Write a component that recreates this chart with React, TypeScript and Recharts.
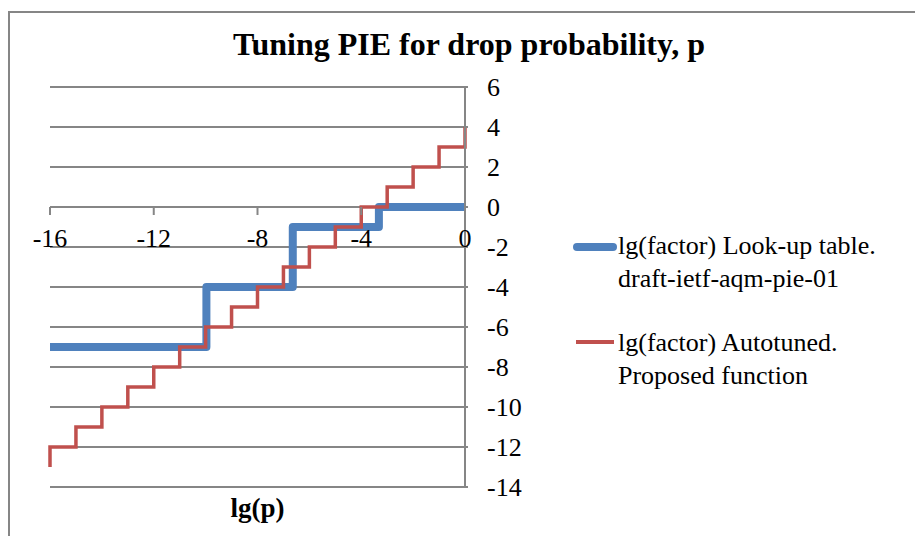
import { LineChart, Line, XAxis, YAxis, CartesianGrid, ReferenceLine, ReferenceDot } from 'recharts';

// lg(p) break points and lg(factor) for the PIE look-up table
const tableLgP = [-16, -9.97, -6.64, -3.32, 0];
const tableLgFactor = [-7, -4, -1, 0, 0];

// autotuned staircase, one step per unit of lg(p)
const autoLgP = [-16, -16, -15, -14, -13, -12, -11, -10, -9, -8, -7, -6, -5, -4, -3, -2, -1, 0];
const autoLgFactor = [-13, -12, -11, -10, -9, -8, -7, -6, -5, -4, -3, -2, -1, 0, 1, 2, 3, 4];

const xTicks = [-16, -12, -8, -4, 0];
const yTicks = [6, 4, 2, 0, -2, -4, -6, -8, -10, -12, -14];

const BLUE = '#4f81bd';
const RED = '#c0504d';
const GRID = '#868686';
const FONT = '"Liberation Serif", "Times New Roman", serif';

const tableData = tableLgP.map((x, i) => ({ x, y: tableLgFactor[i] }));
const autoData = autoLgP.map((x, i) => ({ x, y: autoLgFactor[i] }));

// tick mark + label for the x axis that crosses at y = 0
const XTickMark = (props: any) => {
  const { cx, cy, value } = props;
  return (
    <g>
      {value !== 0 && <line x1={cx} y1={cy} x2={cx} y2={cy + 8} stroke={GRID} strokeWidth={2} />}
      <text x={cx} y={cy + 40} textAnchor="middle" fontFamily={FONT} fontSize={26} fill="#000">
        {value}
      </text>
    </g>
  );
};

export default function App() {
  return (
    <div style={{ position: 'absolute', left: 0, top: 0, width: 915, height: 536, overflow: 'hidden', background: '#fff' }}>
      <div
        style={{
          position: 'absolute',
          left: 8,
          top: 11,
          width: 1000,
          height: 1000,
          borderLeft: `2px solid ${GRID}`,
          borderTop: `2px solid ${GRID}`,
        }}
      />
      <div
        style={{
          position: 'absolute',
          left: 169,
          top: 28,
          width: 600,
          textAlign: 'center',
          fontFamily: FONT,
          fontWeight: 'bold',
          fontSize: 32,
          lineHeight: '32px',
          color: '#000',
        }}
      >
        Tuning PIE for drop probability, p
      </div>
      <div style={{ position: 'absolute', left: 0, top: 0 }}>
        <LineChart width={915} height={536} margin={{ top: 87, right: 390, bottom: 0, left: 50 }}>
          <CartesianGrid horizontal vertical={false} stroke={GRID} strokeWidth={2} />
          <XAxis
            type="number"
            dataKey="x"
            domain={[-16, 0]}
            ticks={xTicks}
            tick={false}
            tickLine={false}
            axisLine={false}
            height={49}
            label={{
              value: 'lg(p)',
              position: 'center',
              dy: -4,
              style: { fontFamily: FONT, fontSize: 27, fontWeight: 'bold', fill: '#000' },
            }}
          />
          <YAxis
            type="number"
            orientation="right"
            domain={[-14, 6]}
            ticks={yTicks}
            interval={0}
            width={60}
            axisLine={{ stroke: GRID, strokeWidth: 2 }}
            tickLine={{ stroke: GRID, strokeWidth: 2 }}
            tickSize={3}
            tickMargin={19}
            tick={{ fontFamily: FONT, fontSize: 26, fill: '#000' }}
          />
          <ReferenceLine y={0} stroke={GRID} strokeWidth={2} />
          {xTicks.map((t) => (
            <ReferenceDot key={t} x={t} y={0} r={0} shape={(p: any) => <XTickMark {...p} value={t} />} />
          ))}
          <Line
            data={tableData}
            dataKey="y"
            type="stepAfter"
            stroke={BLUE}
            strokeWidth={8}
            strokeLinejoin="round"
            dot={false}
            isAnimationActive={false}
          />
          <Line
            data={autoData}
            dataKey="y"
            type="stepAfter"
            stroke={RED}
            strokeWidth={3.5}
            dot={false}
            isAnimationActive={false}
          />
        </LineChart>
      </div>
      <div style={{ position: 'absolute', left: 573, top: 229, fontFamily: FONT, fontSize: 26, lineHeight: '33px', color: '#000' }}>
        <div style={{ display: 'flex' }}>
          <svg width={45} height={33}>
            <line x1={4} y1={18} x2={40} y2={18} stroke={BLUE} strokeWidth={8} strokeLinecap="round" />
          </svg>
          <div>
            lg(factor) Look-up table.
            <br />
            draft-ietf-aqm-pie-01
          </div>
        </div>
        <div style={{ display: 'flex', marginTop: 31 }}>
          <svg width={45} height={33}>
            <line x1={3} y1={16} x2={41} y2={16} stroke={RED} strokeWidth={4} />
          </svg>
          <div>
            lg(factor) Autotuned.
            <br />
            Proposed function
          </div>
        </div>
      </div>
    </div>
  );
}
